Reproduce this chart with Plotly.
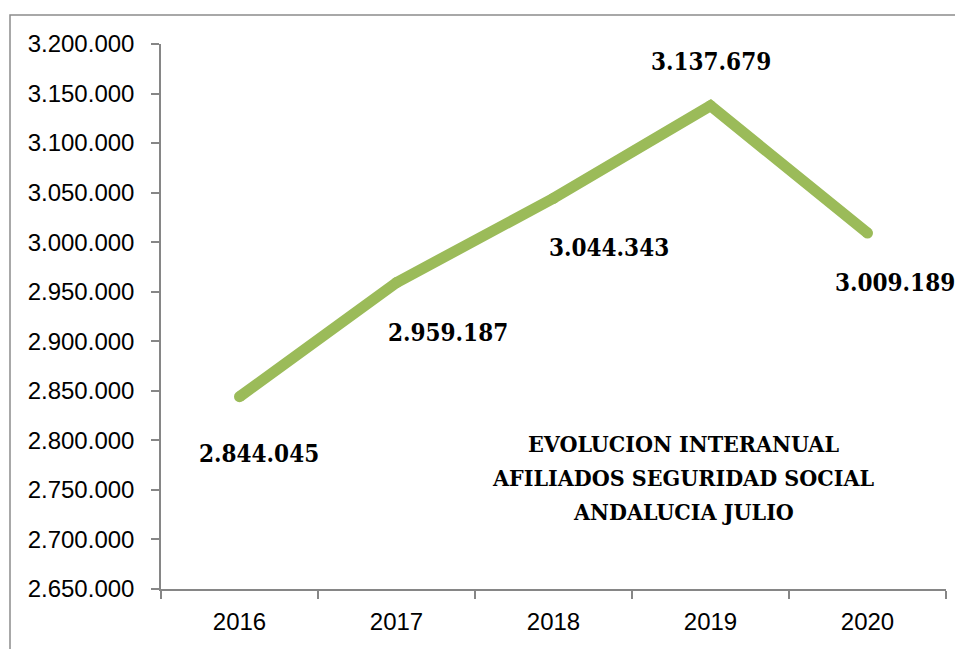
import plotly.graph_objects as go

years = ["2016", "2017", "2018", "2019", "2020"]
afiliados = [2844045, 2959187, 3044343, 3137679, 3009189]
label_text = ["2.844.045", "2.959.187", "3.044.343", "3.137.679", "3.009.189"]
title_lines = ["EVOLUCION INTERANUAL", "AFILIADOS SEGURIDAD SOCIAL", "ANDALUCIA JULIO"]

# label offsets (pixels) relative to each point
label_dx = [19, 51, 55, 0, 27]
label_dy = [-57, -50, -49, 44, -49]

GREEN = "#9BBB59"
GRAY = "#868686"
serif = "DejaVu Serif Condensed, DejaVu Serif"

fig = go.Figure()
fig.add_trace(go.Scatter(
    x=years, y=afiliados, mode="lines+markers",
    line=dict(color=GREEN, width=11),
    marker=dict(color=GREEN, size=11, line=dict(width=0)),
    hoverinfo="skip", showlegend=False,
))

annotations = []
for i, (y, t, dx, dy) in enumerate(zip(afiliados, label_text, label_dx, label_dy)):
    annotations.append(dict(
        x=i, y=y, xref="x", yref="y", text="<b>%s</b>" % t, showarrow=False,
        xshift=dx, yshift=dy, xanchor="center", yanchor="middle",
        font=dict(family=serif, size=24, color="black"),
    ))

title_y = [443, 477, 511]
for line, py in zip(title_lines, title_y):
    annotations.append(dict(
        x=(683 - 161) / 785, y=(589 - py) / 545, xref="paper", yref="paper",
        text="<b>%s</b>" % line, showarrow=False, xanchor="center", yanchor="middle",
        font=dict(family=serif, size=23, color="black"),
    ))

fig.update_layout(
    width=955, height=641,
    margin=dict(l=153, r=17, t=36, b=60),
    paper_bgcolor="white", plot_bgcolor="white",
    separators=",.",
    annotations=annotations,
    shapes=[dict(
        type="rect", xref="paper", yref="paper",
        x0=(10 - 161) / 785, x1=1.2, y0=-0.3, y1=(589 - 15) / 545,
        line=dict(color="#8C8C8C", width=1.5), fillcolor="rgba(0,0,0,0)", layer="below",
    )],
    xaxis=dict(
        type="category", range=[-0.5, 4.5], showgrid=False, zeroline=False,
        showline=True, linecolor=GRAY, linewidth=1.5,
        ticks="outside", tickson="boundaries", ticklen=8, tickcolor=GRAY, tickwidth=1.5,
        tickfont=dict(family="Liberation Sans", size=24, color="black"),
        ticklabelstandoff=10,
    ),
    yaxis=dict(
        range=[2650000, 3200000], dtick=50000, tick0=2650000, tickformat=",d",
        showgrid=False, zeroline=False,
        showline=True, linecolor=GRAY, linewidth=1.5,
        ticks="outside", ticklen=8, tickcolor=GRAY, tickwidth=1.5,
        tickfont=dict(family="Liberation Sans", size=24, color="black"),
        ticklabelstandoff=12,
    ),
)

fig.write_html("out.html")
